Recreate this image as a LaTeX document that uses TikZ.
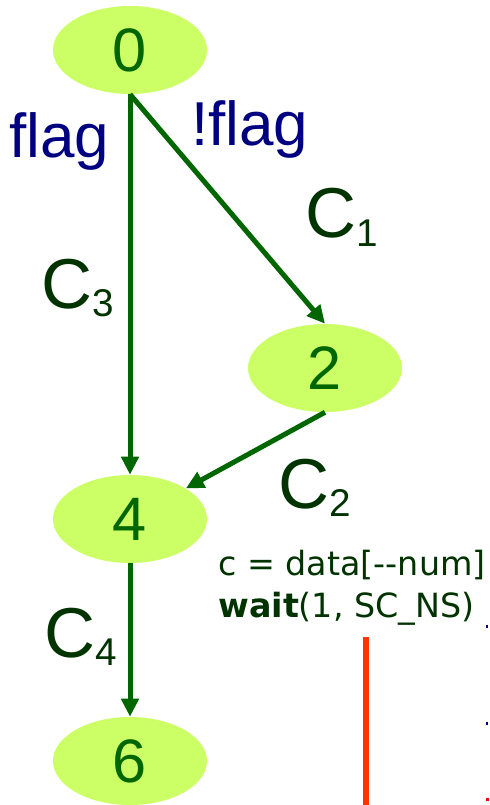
\documentclass[tikz,border=0pt]{standalone}
\usepackage{fontspec}
\setmainfont{Liberation Sans}
\newfontfamily\codefont{DejaVu Sans}
\usetikzlibrary{shapes.geometric,arrows.meta}

\definecolor{nodefill}{HTML}{CCFF66}
\definecolor{edgegreen}{HTML}{006600}
\definecolor{labelgreen}{HTML}{003300}
\definecolor{condnavy}{HTML}{000080}
\definecolor{timeline}{HTML}{FF3300}

% C with a lowered index, e.g. \csub{1}
\newcommand{\csub}[1]{C\kern0.5pt\raisebox{-6.5pt}{\fontsize{29}{29}\selectfont #1}}

\tikzset{
  state/.style={ellipse, fill=nodefill, draw=none, inner sep=0pt,
    minimum width=115.5pt, minimum height=66pt,
    text=edgegreen, font=\fontsize{46}{46}\selectfont},
  edge/.style={draw=edgegreen, line width=3.75pt,
    -{Triangle[length=13.5pt,width=12.75pt]}},
  cond/.style={anchor=base west, inner sep=0pt, text=condnavy,
    font=\fontsize{46.5}{46.5}\selectfont},
  cost/.style={anchor=base west, inner sep=0pt, text=labelgreen,
    font=\fontsize{53}{53}\selectfont},
  code/.style={anchor=base west, inner sep=0pt, text=labelgreen,
    font=\codefont\fontsize{25}{25}\selectfont},
}

\begin{document}
\begin{tikzpicture}[x=0.75pt, y=-0.75pt]
  \useasboundingbox (0,0) rectangle (489,805);

  % states
  \node[state] (s0) at (130,50) {0};
  \node[state] (s2) at (325,368) {2};
  \node[state] (s4) at (130,519) {4};
  \node[state] (s6) at (130,761) {6};

  % transitions
  \draw[edge] (s0.south) -- (s4.north);
  \draw[edge] (s0.south) -- (s2.north);
  \draw[edge] (s2.south) -- (s4);
  \draw[edge] (s4.south) -- (s6.north);

  % branch conditions
  \node[cond] (lflag) at (9,158) {flag};
  \node[cond] (lnflag) at (191,146) {!flag};

  % edge costs
  \node[cost] (c1) at (305,238) {\csub{1}};
  \node[cost] (c3) at (41,308) {\csub{3}};
  \node[cost] (c2) at (278,508) {\csub{2}};
  \node[cost] (c4) at (44,657) {\csub{4}};

  % statements executed on the way to state 6
  \node[code] (code1) at (218,575) {c = data[-{}-num]};
  \node[code] (code2) at (218,617) {{\bfseries wait}(1, SC\_NS)};

  % time line
  \coordinate (ttop) at (366,637);
  \coordinate (tbot) at (366,805);
  \draw[timeline, line width=4.5pt] (ttop) -- (tbot);

  % marks at the right border
  \fill[condnavy] (486,625) rectangle (488,628);
  \fill[condnavy] (486,722) rectangle (488,725);
  \fill[red] (486,798) rectangle (489,801);
\end{tikzpicture}
\end{document}
